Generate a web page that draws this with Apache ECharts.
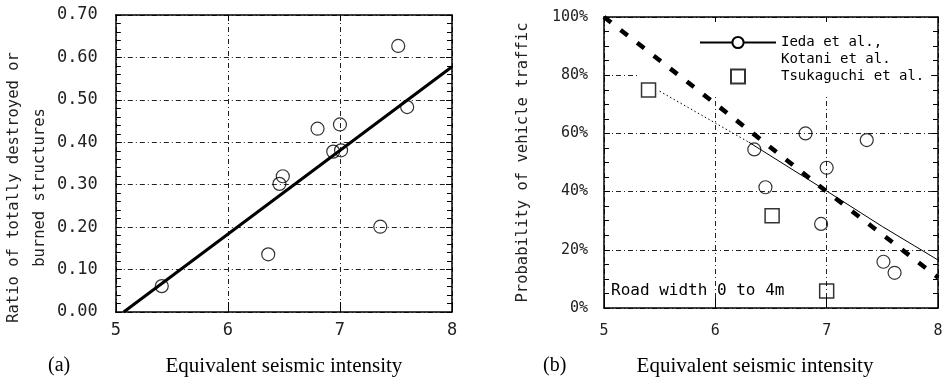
<!DOCTYPE html>
<html>
<head>
<meta charset="utf-8">
<script src="https://cdn.jsdelivr.net/npm/echarts@6/dist/echarts.min.js"></script>
<style>
  html, body { margin: 0; padding: 0; background: #fff; }
  #chart { width: 947px; height: 384px; }
</style>
</head>
<body>
<div id="chart"></div>
<script>
// (a) ratio of totally destroyed or burned structures
const intensityA = [5.41, 6.36, 6.46, 6.49, 6.80, 6.94, 7.01, 7.00, 7.36, 7.52, 7.60];
const ratioA = [0.061, 0.136, 0.302, 0.320, 0.432, 0.378, 0.381, 0.442, 0.201, 0.627, 0.483];
const fitAX = [5.07, 8.0];
const fitAY = [0.0, 0.578];

// (b) probability of vehicle traffic, road width 0 to 4m
const iedaX = [6.35, 6.45, 6.81, 7.00, 6.95, 7.36, 7.51, 7.61];
const iedaY = [54.5, 41.5, 60.0, 48.2, 28.9, 57.7, 15.9, 12.1];
const squareX = [5.40, 6.51, 7.00];
const squareY = [74.9, 31.7, 5.8];
const iedaFitX = [6.3, 7.0, 7.5, 8.0];
const iedaFitY = [57.0, 40.2, 28.0, 16.5];
const dottedFitX = [5.5, 6.3];
const dottedFitY = [74.5, 57.0];
const modelX = [5, 6, 7, 8];
const modelY = [100, 70.2, 40.0, 10.5];

const legendNames = ['Ieda et al.,', 'Kotani et al.', 'Tsukaguchi et al.'];

const MONO = "'DejaVu Sans Mono', monospace";
const SERIF = "'Liberation Serif', 'DejaVu Serif', serif";

const zip = (xs, ys) => xs.map((x, i) => [x, ys[i]]);

const gridLine = {
  show: true,
  lineStyle: { color: '#222', width: 1, type: [5, 3, 1, 3] },
};
const border = { show: true, onZero: false, lineStyle: { color: '#000', width: 1.5 } };

// bottom/left axes carry labels, top/right just close the box
function xAxes(gridIndex, label, name) {
  return [
    {
      gridIndex, type: 'value', min: 5, max: 8, interval: 1, position: 'bottom',
      axisLine: border,
      axisTick: { show: true, inside: true, length: 10, lineStyle: { color: '#000' } },
      axisLabel: label,
      splitLine: gridLine,
      ...name,
    },
    {
      gridIndex, type: 'value', min: 5, max: 8, interval: 1, position: 'top',
      axisLine: border,
      axisTick: { show: true, inside: true, length: 6, lineStyle: { color: '#000' } },
      axisLabel: { show: false },
      splitLine: { show: false },
    },
  ];
}

function yAxes(gridIndex, range, label, name) {
  const ticks = {
    axisLine: border,
    axisTick: { show: true, inside: true, length: 6, lineStyle: { color: '#000' } },
    minorTick: { show: true, splitNumber: range.minor, length: 5, lineStyle: { color: '#000' } },
  };
  return [
    {
      gridIndex, type: 'value', min: range.min, max: range.max, interval: range.interval,
      position: 'left', ...ticks,
      axisLabel: label,
      splitLine: gridLine,
      ...name,
    },
    {
      gridIndex, type: 'value', min: range.min, max: range.max, interval: range.interval,
      position: 'right', ...ticks,
      axisLabel: { show: false },
      splitLine: { show: false },
    },
  ];
}

const chart = echarts.init(document.getElementById('chart'), null, { renderer: 'canvas' });

chart.setOption({
  animation: false,
  backgroundColor: '#fff',
  grid: [
    { left: 115, top: 15, width: 337, height: 297 },
    { left: 604, top: 17, width: 334, height: 291 },
  ],
  legend: {
    data: [
      { name: legendNames[0] },
      { name: legendNames[1], icon: 'none' },
      { name: legendNames[2], icon: 'path://M0 0M76 14M31 0h14v14h-14z' },
    ],
    orient: 'vertical',
    left: 699,
    top: 34,
    padding: 0,
    itemWidth: 76,
    itemHeight: 14,
    itemGap: 0,
    selectedMode: false,
    z: 3,
    textStyle: { fontFamily: MONO, fontSize: 14, color: '#000', lineHeight: 17 },
  },
  xAxis: [
    ...xAxes(0,
      { color: '#222', fontFamily: MONO, fontSize: 17, margin: 10 },
      {
        name: 'Equivalent seismic intensity', nameLocation: 'middle', nameGap: 44,
        nameTextStyle: { fontFamily: SERIF, fontSize: 21, color: '#000' },
      }),
    ...xAxes(1,
      { color: '#222', fontFamily: MONO, fontSize: 15, margin: 16 },
      {
        name: 'Equivalent seismic intensity', nameLocation: 'middle', nameGap: 48,
        nameTextStyle: { fontFamily: SERIF, fontSize: 21, color: '#000', padding: [0, 32, 0, 0] },
      }),
  ],
  yAxis: [
    ...yAxes(0, { min: 0, max: 0.7, interval: 0.1, minor: 5 },
      { color: '#222', fontFamily: MONO, fontSize: 17, margin: 18, formatter: (v) => v.toFixed(2) },
      {
        name: 'Ratio of totally destroyed or\nburned structures', nameLocation: 'middle', nameGap: 58,
        nameTextStyle: { fontFamily: MONO, fontSize: 15.5, color: '#222', lineHeight: 26, padding: [0, 48, 0, 0] },
      }),
    ...yAxes(1, { min: 0, max: 100, interval: 20, minor: 4 },
      { color: '#222', fontFamily: MONO, fontSize: 15, margin: 16, formatter: (v) => v + '%' },
      {
        name: 'Probability of vehicle traffic', nameLocation: 'middle', nameGap: 73,
        nameTextStyle: { fontFamily: MONO, fontSize: 15.5, color: '#222' },
      }),
  ],
  graphic: [
    // white panel behind the legend hides the grid lines there, as in the original
    { type: 'rect', left: 637, top: 22, z: 1, shape: { width: 294, height: 75 }, style: { fill: '#fff' } },
    { type: 'text', left: 48, top: 356, style: { text: '(a)', fontFamily: SERIF, fontSize: 20, fill: '#000' } },
    { type: 'text', left: 543, top: 356, style: { text: '(b)', fontFamily: SERIF, fontSize: 20, fill: '#000' } },
    { type: 'text', left: 611, top: 283, style: { text: 'Road width 0 to 4m', fontFamily: MONO, fontSize: 16, fill: '#000' } },
  ],
  series: [
    {
      type: 'line', name: 'Regression', xAxisIndex: 0, yAxisIndex: 0,
      data: zip(fitAX, fitAY), symbol: 'none',
      lineStyle: { color: '#000', width: 3 },
    },
    {
      type: 'scatter', name: 'Observed', xAxisIndex: 0, yAxisIndex: 0,
      data: zip(intensityA, ratioA), symbol: 'circle', symbolSize: 13,
      itemStyle: { color: 'transparent', borderColor: '#000', borderWidth: 1.2 },
    },
    {
      type: 'line', name: 'Model', xAxisIndex: 2, yAxisIndex: 2, z: 4,
      data: zip(modelX, modelY), symbol: 'none',
      lineStyle: { color: '#000', width: 4.5, type: [9, 12] },
    },
    {
      type: 'line', name: legendNames[0], xAxisIndex: 2, yAxisIndex: 2, z: 4,
      data: zip(iedaFitX, iedaFitY), symbol: 'emptyCircle', showSymbol: false,
      itemStyle: { color: '#000' },
      lineStyle: { color: '#000', width: 1 },
    },
    {
      type: 'line', name: legendNames[1], xAxisIndex: 2, yAxisIndex: 2, z: 4,
      data: zip(dottedFitX, dottedFitY), symbol: 'none',
      itemStyle: { color: '#000' },
      lineStyle: { color: '#000', width: 1, type: [1.5, 2.5] },
    },
    {
      type: 'scatter', name: legendNames[0], xAxisIndex: 2, yAxisIndex: 2, z: 4,
      data: zip(iedaX, iedaY), symbol: 'circle', symbolSize: 13,
      itemStyle: { color: 'transparent', borderColor: '#000', borderWidth: 1.2 },
    },
    {
      type: 'scatter', name: legendNames[2], xAxisIndex: 2, yAxisIndex: 2, z: 4,
      data: zip(squareX, squareY), symbol: 'rect', symbolSize: 14,
      itemStyle: { color: 'transparent', borderColor: '#000', borderWidth: 1.5 },
    },
  ],
});
</script>
</body>
</html>
